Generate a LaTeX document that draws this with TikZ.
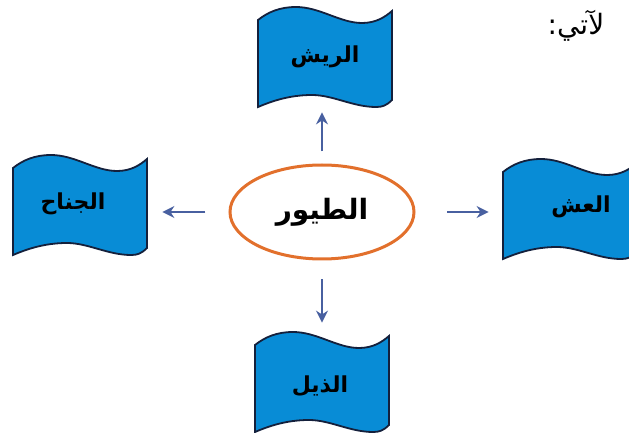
\documentclass[tikz,border=0pt]{standalone}
\usepackage{fontspec}
\usepackage{tikz}
\usetikzlibrary{shapes.geometric,arrows.meta}
\newfontfamily\arabicfont[Script=Arabic]{DejaVu Sans}
\TeXXeTstate=1
\definecolor{flagblue}{RGB}{8,140,214}
\definecolor{flagline}{RGB}{20,32,60}
\definecolor{ringorange}{RGB}{226,112,44}
\definecolor{arrowblue}{RGB}{72,96,160}

\begin{document}
\begin{tikzpicture}[x=0.5pt,y=-0.5pt,
        flagfill/.style={fill=flagblue, draw=flagline, line width=0.9pt},
        flaglabel/.style={minimum width=67pt, minimum height=45pt, inner sep=0pt,
            font=\arabicfont\bfseries\fontsize{11}{13}\selectfont},
        link/.style={arrowblue, line width=1.3pt, -{Stealth[length=6pt,width=6pt]}}]
            \useasboundingbox (0,0) rectangle (629,433);
            \clip (0,0) rectangle (629,433);

            % the four flags
            \foreach \fx/\fy in {258/7, 13/155, 503/159, 255/332} {
                \begin{scope}[shift={(\fx,\fy)}]
                    \draw[flagfill] (0,13) .. controls (10,5) and (22,0) .. (38,0)
                        .. controls (62,0) and (82,16) .. (104,16)
                        .. controls (118,16) and (127,10) .. (134,4)
                        -- (134,93) .. controls (128,99) and (124,100) .. (118,100)
                        .. controls (95,100) and (75,88) .. (54,88)
                        .. controls (30,88) and (12,95) .. (0,100) -- cycle;
                \end{scope}
            }

            \node[ellipse, draw=ringorange, line width=1.5pt, minimum width=92pt,
                minimum height=47pt, font=\arabicfont\bfseries\fontsize{14}{16}\selectfont]
                (birds) at (322,212) {\beginR الطيور\endR};

            \node[flaglabel] (feathers) at (325,57) {\beginR الريش\endR};
            \node[flaglabel] (wing) at (73,204) {\beginR الجناح\endR};
            \node[flaglabel] (nest) at (581,207) {\beginR العش\endR};
            \node[flaglabel] (tail) at (320,386) {\beginR الذيل\endR};

            \node[font=\arabicfont\fontsize{14}{16}\selectfont] (intro) at (576,26) {\beginR لآتي:\endR};

            \draw[link, shorten <=6pt, shorten >=5pt] (birds.north) -- (birds.north |- feathers.south);
            \draw[link, shorten <=11.5pt, shorten >=11pt] (birds.west) -- (birds.west -| wing.east);
            \draw[link, shorten <=16pt, shorten >=12.5pt] (birds.east) -- (birds.east -| nest.west);
            \draw[link, shorten <=9.5pt, shorten >=9pt] (birds.south) -- (birds.south |- tail.north);
        \end{tikzpicture}
\end{document}
